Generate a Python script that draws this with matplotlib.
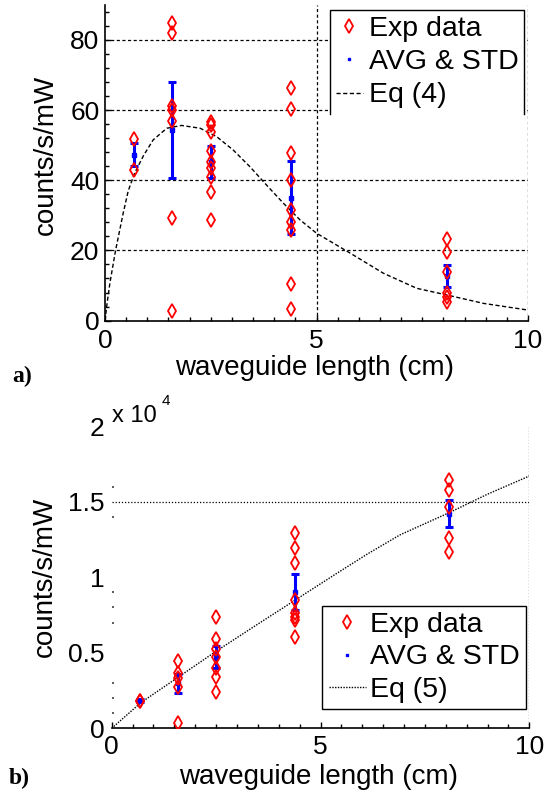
import matplotlib
matplotlib.use("Agg")
import matplotlib.pyplot as plt
from matplotlib.lines import Line2D
from matplotlib.ticker import MultipleLocator, FixedLocator, FuncFormatter

plt.rcParams['font.family'] = ['Liberation Sans', 'DejaVu Sans']

# ---------------- data ----------------
lengths = [0.68, 1.58, 2.5, 4.4, 8.08]          # waveguide length (cm)

# panel a) counts/s/mW
exp_a = [
    [51.6, 43.0],
    [84.7, 81.8, 61.0, 60.0, 57.0, 29.3, 2.7],
    [56.6, 55.7, 53.8, 48.3, 45.1, 43.4, 41.0, 36.5, 28.7],
    [66.4, 60.3, 47.7, 40.0, 31.5, 28.2, 25.8, 10.4, 3.4],
    [23.2, 19.5, 13.9, 8.0, 6.8, 5.4],
]
avg_a = [47.3, 54.2, 45.2, 35.0, 12.7]
std_a = [3.2, 13.7, 4.6, 10.4, 3.2]

eq4_x = [0, 0.05, 0.12, 0.25, 0.43, 0.55, 0.7, 0.91, 1.14, 1.46, 1.81, 2.25,
         2.64, 3.03, 3.43, 3.82, 4.22, 4.61, 5.0, 5.8, 6.58, 7.37, 8.08, 8.95, 10]
eq4_y = [0, 5.0, 11.0, 20.0, 30.6, 37.0, 42.0, 47.0, 51.5, 54.8, 55.6, 54.8,
         52.4, 48.6, 43.8, 38.6, 33.4, 28.7, 24.9, 19.2, 13.5, 9.2, 7.3, 4.9, 3.0]

# panel b) counts/s/mW
exp_b = [
    [1830, 1830],
    [4470, 3640, 3350, 2750, 330],
    [7390, 5890, 5230, 4700, 3970, 3420, 2420],
    [12950, 11910, 10960, 8490, 7610, 7390, 7170, 6020],
    [16430, 15770, 14670, 12570, 11650],
]
avg_b = [1830, 2980, 4730, 9020, 14200]
std_b = [100, 620, 720, 1190, 900]

eq5_x = [0, 0.7, 1.6, 2.5, 3.5, 4.4, 5.3, 6.1, 6.9, 8.1, 9.0, 10]
eq5_y = [0, 1700, 3400, 5100, 6900, 8500, 10100, 11500, 12800, 14300, 15500, 16700]

# ---------------- figure ----------------
W, H = 546, 792
fig = plt.figure(figsize=(W / 100, H / 100), dpi=100)

def fx(px):
    return px / W

def fy(py):
    return 1 - py / H

ax1 = fig.add_axes([fx(105), fy(320.6), fx(528) - fx(105), fy(4.7) - fy(320.6)])
ax2 = fig.add_axes([fx(111.7), fy(728.3), fx(529.3) - fx(111.7), fy(426.2) - fy(728.3)])

TICK_FS = 19
LAB_FS = 20
LEG_FS = 20.5

grid_kw = dict(color='black', lw=0.9, ls=(0, (2.5, 2)), zorder=1)

# ---- panel a ----
ax1.set_xlim(0, 10)
ax1.set_ylim(0, 90)
for s in ['top', 'right']:
    ax1.spines[s].set_visible(False)
ax1.spines['left'].set_linewidth(1.2)
ax1.spines['bottom'].set_linewidth(1.2)
ax1.set_xticks([0, 5, 10])
ax1.set_yticks([0, 20, 40, 60, 80])
ax1.xaxis.set_minor_locator(MultipleLocator(0.5))
ax1.yaxis.set_minor_locator(MultipleLocator(4))
ax1.tick_params(which='both', direction='in', width=1, labelsize=TICK_FS)
ax1.tick_params(which='major', length=4)
ax1.tick_params(which='minor', length=3)
ax1.tick_params(axis='y', pad=4)
ax1.tick_params(axis='x', pad=6)
for yv in [20, 40, 60, 80]:
    ax1.axhline(yv, **grid_kw)
for xv in [5, 10]:
    ax1.axvline(xv, **grid_kw)

ax1.plot(eq4_x, eq4_y, color='black', lw=1.0, ls=(0, (3, 1.8)), zorder=2)
ax1.errorbar(lengths, avg_a, yerr=std_a, fmt='s', color='blue', ms=3.5,
             elinewidth=2.2, capsize=2.7, capthick=2.2, zorder=3)
for xv, ys in zip(lengths, exp_a):
    ax1.plot([xv] * len(ys), ys, 'd', mfc='none', mec='red', ms=7, mew=1.3, zorder=4)

ax1.set_xlabel('waveguide length (cm)', fontsize=LAB_FS, va='center')
ax1.xaxis.set_label_coords(0.496, (320.6 - 368) / 315.9)
ax1.set_ylabel('counts/s/mW', fontsize=LAB_FS, va='center')
ax1.yaxis.set_label_coords((46 - 105) / 423, (320.6 - 155) / 315.9)

h_exp = Line2D([], [], ls='none', marker='d', mfc='none', mec='red', ms=7, mew=1.3)
h_avg = Line2D([], [], ls='none', marker='s', color='blue', ms=2)
h_eq4 = Line2D([], [], color='black', lw=1.0, ls=(0, (3, 1.8)))
leg1 = ax1.legend([h_exp, h_avg, h_eq4], ['Exp data', 'AVG & STD', 'Eq (4)'],
                  loc='upper left', bbox_to_anchor=((330 - 105) / 423, (320.6 - 10) / 315.9),
                  borderaxespad=0, fontsize=LEG_FS, frameon=True, fancybox=False,
                  framealpha=1, edgecolor='none', borderpad=0.2, labelspacing=0.26,
                  handlelength=0.95, handletextpad=0.22)
leg1.set_zorder(5)
fig.canvas.draw()
bb = leg1.get_window_extent().transformed(ax1.transAxes.inverted())
ax1.add_line(Line2D([bb.x0, bb.x0, bb.x1, bb.x1], [bb.y0, bb.y1, bb.y1, bb.y0],
                    transform=ax1.transAxes, color='black', lw=1.0, clip_on=False, zorder=6))

# ---- panel b ----
ax2.set_xlim(0, 10)
ax2.set_ylim(0, 20000)
for s in ['top', 'right', 'left']:
    ax2.spines[s].set_visible(False)
ax2.spines['bottom'].set_linewidth(1.2)
ax2.set_xticks([0, 5, 10])
ax2.set_yticks([0, 5000, 10000, 15000, 20000])
ax2.yaxis.set_major_formatter(FuncFormatter(lambda v, p: '%g' % (v / 1e4)))
ax2.xaxis.set_minor_locator(MultipleLocator(0.5))
ax2.yaxis.set_minor_locator(FixedLocator([1000, 2000, 3000, 7000, 8000, 9000, 14000, 16000]))
ax2.tick_params(which='both', direction='in', width=1, labelsize=TICK_FS)
ax2.tick_params(axis='x', which='major', length=4, pad=5)
ax2.tick_params(axis='x', which='minor', length=3)
ax2.tick_params(axis='y', which='major', length=0, pad=5)
ax2.tick_params(axis='y', which='minor', length=1.5, width=1.2, color='0.25')
ax2.axhline(15000, color='black', lw=0.9, ls=(0, (1, 1.5)), zorder=1)
ax2.axvline(10, color='black', lw=0.9, ls=(0, (1, 1.5)), zorder=1)

ax2.plot(eq5_x, eq5_y, color='black', lw=1.0, ls=(0, (1, 1)), zorder=2)
ax2.errorbar(lengths, avg_b, yerr=std_b, fmt='s', color='blue', ms=3.5,
             elinewidth=2.2, capsize=2.7, capthick=2.2, zorder=3)
for xv, ys in zip(lengths, exp_b):
    ax2.plot([xv] * len(ys), ys, 'd', mfc='none', mec='red', ms=7, mew=1.3, zorder=4)

ax2.set_xlabel('waveguide length (cm)', fontsize=LAB_FS, va='center')
ax2.xaxis.set_label_coords(0.496, (728.3 - 777) / 302.1)
ax2.set_ylabel('counts/s/mW', fontsize=LAB_FS, va='center')
ax2.yaxis.set_label_coords((45 - 111.7) / 417.6, 0.5)

h_eq5 = Line2D([], [], color='black', lw=1.0, ls=(0, (1, 1)))
leg2 = ax2.legend([h_exp, h_avg, h_eq5], ['Exp data', 'AVG & STD', 'Eq (5)'],
                  loc='lower right', bbox_to_anchor=((526 - 111.7) / 417.6, (728.3 - 709) / 302.1),
                  borderaxespad=0, fontsize=LEG_FS, frameon=True, fancybox=False,
                  framealpha=1, edgecolor='black', borderpad=0.22, labelspacing=0.22,
                  handlelength=1.3, handletextpad=0.15)
leg2.get_frame().set_linewidth(1.0)

# exponent text
fig.text(fx(111.7), fy(421.7), 'x 10', fontsize=17, ha='left', va='baseline')
fig.text(fx(162), fy(405), '4', fontsize=11, ha='left', va='baseline')

# panel letters
fig.text(fx(22), fy(376), 'a)', fontsize=17, fontweight='bold',
         family='Liberation Serif', ha='center', va='center')
fig.text(fx(19), fy(778), 'b)', fontsize=17, fontweight='bold',
         family='Liberation Serif', ha='center', va='center')

fig.savefig('out.png', dpi=100)
